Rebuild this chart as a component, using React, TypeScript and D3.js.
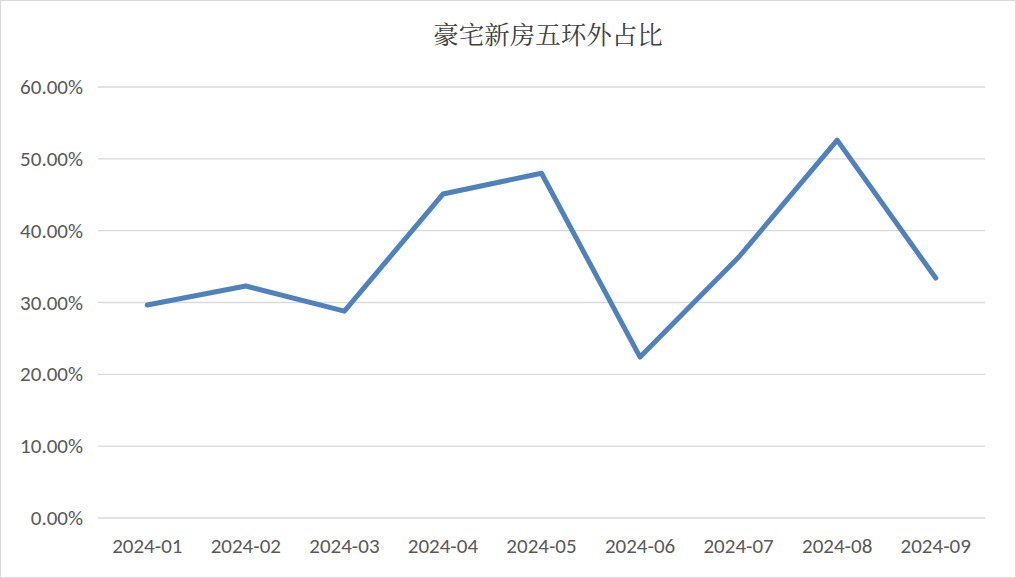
import React from "react";
import * as d3 from "d3";

const categories = ["2024-01","2024-02","2024-03","2024-04","2024-05","2024-06","2024-07","2024-08","2024-09"];
const values = [0.2965, 0.323, 0.288, 0.451, 0.480, 0.224, 0.363, 0.526, 0.334];
const yTicks = [0, 0.1, 0.2, 0.3, 0.4, 0.5, 0.6];
const title = "豪宅新房五环外占比";

export default function App() {
  const W = 1016, H = 578;
  const left = 98, right = 985, top = 87, bottom = 518;
  const x = d3.scaleBand<string>().domain(categories).range([left, right]);
  const y = d3.scaleLinear().domain([0, 0.6]).range([bottom, top]);
  const line = d3.line<number>()
    .x((_, i) => (x(categories[i]) as number) + x.bandwidth() / 2)
    .y((d) => y(d));
  const font = "Calibri, Carlito, 'Liberation Sans', 'Noto Sans', sans-serif";
  return (
    <svg width={W} height={H} style={{ position: "absolute", left: 0, top: 0, background: "#fff" }}>
      <rect x={0.5} y={0.5} width={W - 1} height={H - 1} fill="#fff" stroke="#d9d9d9" />
      <text x={548} y={44} textAnchor="middle" fontSize={25.5} fill="#404040"
        fontFamily="'Noto Serif CJK SC', 'Noto Sans CJK SC', serif">{title}</text>
      {yTicks.map((t) => (
        <g key={t}>
          <line x1={left} x2={right} y1={y(t)} y2={y(t)} stroke="#d9d9d9" strokeWidth={1.3} />
          <text x={83} y={y(t) + 7} textAnchor="end" fontSize={21} fill="#595959" fontFamily={font}>
            {(t * 100).toFixed(2) + "%"}
          </text>
        </g>
      ))}
      {categories.map((c) => (
        <text key={c} x={(x(c) as number) + x.bandwidth() / 2} y={553} textAnchor="middle"
          fontSize={21} fill="#595959" fontFamily={font}>{c}</text>
      ))}
      <path d={line(values) || ""} fill="none" stroke="#4f81bd" strokeWidth={5} strokeLinejoin="round" strokeLinecap="round" />
    </svg>
  );
}
